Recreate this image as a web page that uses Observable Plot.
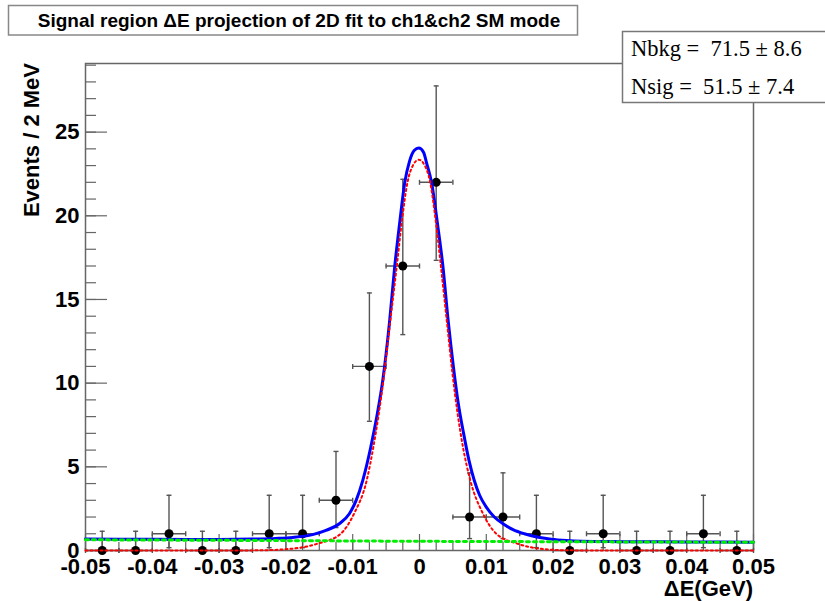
<!DOCTYPE html>
<html>
<head>
<meta charset="utf-8">
<script src="https://cdn.jsdelivr.net/npm/d3@7"></script>
<script src="https://cdn.jsdelivr.net/npm/@observablehq/plot@0.6"></script>
<style>
  body { margin: 0; background: white; }
  svg { display: block; }
</style>
</head>
<body>
<script>
// ---- data ----
const binCenters = [-0.0475, -0.0425, -0.0375, -0.0325, -0.0275, -0.0225, -0.0175, -0.0125, -0.0075, -0.0025,
                     0.0025,  0.0075,  0.0125,  0.0175,  0.0225,  0.0275,  0.0325,  0.0375,  0.0425,  0.0475];
const counts  = [0, 0, 1, 0, 0, 1, 1, 3, 11, 17, 22, 2, 2, 1, 0, 1, 0, 0, 1, 0];
const errLow  = [0, 0, 0.83, 0, 0, 0.83, 0.83, 1.63, 3.28, 4.10, 4.66, 1.29, 1.29, 0.83, 0, 0.83, 0, 0, 0.83, 0];
const errHigh = [1.15, 1.15, 2.30, 1.15, 1.15, 2.30, 2.30, 2.92, 4.39, 5.18, 5.76, 2.64, 2.64, 2.30, 1.15, 2.30, 1.15, 1.15, 2.30, 1.15];
const binWidth = 0.005;

// total fit (blue)
const totalX = [-0.05, -0.04, -0.03, -0.025, -0.0215, -0.019, -0.016, -0.014, -0.012, -0.0105, -0.0095, -0.0085, -0.0073, -0.0063, -0.0055,
                -0.0045, -0.0037, -0.0029, -0.0022, -0.0015, -0.0008, -0.0001, 0.0006, 0.0011, 0.0018, 0.0027, 0.0035, 0.0043, 0.0051,
                0.0058, 0.0066, 0.0074, 0.0082, 0.009, 0.01, 0.0112, 0.0125, 0.014, 0.0157, 0.018, 0.0197, 0.022, 0.0242, 0.03, 0.04, 0.05];
const totalY = [0.68, 0.67, 0.66, 0.68, 0.72, 0.78, 0.95, 1.2, 1.6, 2.2, 2.98, 4.18, 6.17, 8.2, 10.16,
                13.6, 17.0, 19.8, 22.0, 23.25, 23.9, 24.05, 23.8, 23.1, 22.0, 19.5, 17.0, 13.7, 10.9,
                8.8, 7.0, 5.4, 4.18, 3.3, 2.59, 2.0, 1.6, 1.25, 1.0, 0.78, 0.68, 0.6, 0.56, 0.53, 0.51, 0.5];

// signal component (red dotted)
const signalX = [-0.05, -0.03, -0.024, -0.0193, -0.0153, -0.0118, -0.0098, -0.0079, -0.0069, -0.0054, -0.0045, -0.0034, -0.0026, -0.0018,
                 -0.001, -0.0001, 0.0008, 0.0016, 0.0024, 0.0032, 0.0042, 0.0049, 0.0057, 0.0065, 0.0076, 0.0095, 0.0115, 0.0147, 0.0182,
                 0.0222, 0.03, 0.05];
const signalY = [0, 0, 0.01, 0.1, 0.4, 1.0, 2.2, 4.2, 6.2, 10.2, 13.3, 17.0, 19.8, 22.0,
                 23.0, 23.35, 23.0, 22.0, 19.8, 17.0, 13.3, 10.7, 8.2, 6.2, 4.2, 2.2, 1.0, 0.4, 0.1,
                 0.01, 0, 0];

// background component (green dotted)
const bkgX = [-0.05, -0.025, 0, 0.025, 0.05];
const bkgY = [0.64, 0.6, 0.55, 0.52, 0.49];

// axes
const xTickValues = [-0.05, -0.04, -0.03, -0.02, -0.01, 0, 0.01, 0.02, 0.03, 0.04, 0.05];
const xTickLabels = ["-0.05", "-0.04", "-0.03", "-0.02", "-0.01", "0", "0.01", "0.02", "0.03", "0.04", "0.05"];
const xMinorTicks = d3.range(0, 41).map(i => -0.05 + i * 0.0025);
const yTickValues = [0, 5, 10, 15, 20, 25];
const yTickLabels = ["0", "5", "10", "15", "20", "25"];
const yMinorTicks = d3.range(0, 30);
const xDomain = [-0.05, 0.05];
const yDomain = [0, 29.1];

const titleText = "Signal region \u0394E projection of 2D fit to ch1&ch2 SM mode";
const statsLines = ["Nbkg =  71.5 \u00B1 8.6", "Nsig =  51.5 \u00B1 7.4"];
const xTitle = "\u0394E(GeV)";
const yTitle = "Events / 2 MeV";

// ---- build ----
const points = binCenters.map((x, i) => ({
  x, y: counts[i], lo: counts[i] - errLow[i], hi: counts[i] + errHigh[i],
  left: x - binWidth / 2, right: x + binWidth / 2
}));
const total = totalX.map((x, i) => ({x, y: totalY[i]}));
const signal = signalX.map((x, i) => ({x, y: signalY[i]}));
const bkg = bkgX.map((x, i) => ({x, y: bkgY[i]}));

const hCap = {draw(ctx) { ctx.moveTo(-2.5, 0); ctx.lineTo(2.5, 0); }};
const vCap = {draw(ctx) { ctx.moveTo(0, -2.5); ctx.lineTo(0, 2.5); }};

const axisColor = "#666";
const errColor = "#555";
const sans = "'Liberation Sans', Arial, Helvetica, sans-serif";
const serif = "'Liberation Serif', 'Times New Roman', serif";

const chart = Plot.plot({
  width: 825,
  height: 601,
  marginLeft: 85,
  marginRight: 72,
  marginTop: 63,
  marginBottom: 51,
  style: {fontFamily: sans, background: "white", color: "black"},
  x: {domain: xDomain},
  y: {domain: yDomain},
  marks: [
    Plot.frame({stroke: axisColor, strokeWidth: 1.5}),
    // inward ticks
    Plot.axisY({ticks: yMinorTicks, tickSize: -11, fill: "none", stroke: axisColor, strokeWidth: 1.2, label: null}),
    Plot.axisY({ticks: yTickValues, tickSize: -22, fill: "none", stroke: axisColor, strokeWidth: 1.2, label: null}),
    Plot.axisX({ticks: xMinorTicks, tickSize: -8, fill: "none", stroke: axisColor, strokeWidth: 1.2, label: null}),
    Plot.axisX({ticks: xTickValues, tickSize: -16, fill: "none", stroke: axisColor, strokeWidth: 1.2, label: null}),
    // tick labels
    Plot.axisY({ticks: yTickValues, tickSize: 0, tickPadding: 6, label: null,
      tickFormat: d => yTickLabels[yTickValues.indexOf(d)],
      fontSize: 22, fontWeight: "bold", fill: "black"}),
    Plot.axisX({ticks: xTickValues, tickSize: 0, tickPadding: 8, label: null,
      tickFormat: d => xTickLabels[xTickValues.indexOf(d)],
      fontSize: 22, fontWeight: "bold", fill: "black"}),
    // error bars
    Plot.ruleX(points, {x: "x", y1: "lo", y2: "hi", stroke: errColor, strokeWidth: 1.4}),
    Plot.ruleY(points, {y: "y", x1: "left", x2: "right", stroke: errColor, strokeWidth: 1.4}),
    Plot.dot(points, {x: "x", y: "hi", symbol: hCap, stroke: errColor, strokeWidth: 1.4, fill: "none"}),
    Plot.dot(points, {x: "x", y: "lo", symbol: hCap, stroke: errColor, strokeWidth: 1.4, fill: "none"}),
    Plot.dot(points, {x: "left", y: "y", symbol: vCap, stroke: errColor, strokeWidth: 1.4, fill: "none"}),
    Plot.dot(points, {x: "right", y: "y", symbol: vCap, stroke: errColor, strokeWidth: 1.4, fill: "none"}),
    Plot.dot(points, {x: "x", y: "y", r: 4.5, fill: "black", stroke: "none"}),
    // fit curves
    Plot.line(total, {x: "x", y: "y", stroke: "#0000ff", strokeWidth: 3, curve: "monotone-x"}),
    Plot.line(signal, {x: "x", y: "y", stroke: "#ff0000", strokeWidth: 2, strokeDasharray: "2,3", curve: "monotone-x"}),
    Plot.line(bkg, {x: "x", y: "y", stroke: "#00ee00", strokeWidth: 3, strokeDasharray: "3,4", curve: "monotone-x"})
  ]
});
document.body.append(chart);

const svg = d3.select(chart);

// axis titles
svg.append("text")
  .attr("transform", "translate(39,63) rotate(-90)")
  .attr("text-anchor", "end")
  .attr("font-family", sans).attr("font-weight", "bold").attr("font-size", 22)
  .attr("fill", "black")
  .text(yTitle);
svg.append("text")
  .attr("x", 753).attr("y", 596)
  .attr("text-anchor", "end")
  .attr("font-family", sans).attr("font-weight", "bold").attr("font-size", 22)
  .attr("fill", "black")
  .text(xTitle);

// title box
svg.append("rect")
  .attr("x", 8.5).attr("y", 5.5).attr("width", 569).attr("height", 29.5)
  .attr("fill", "white").attr("stroke", "#888").attr("stroke-width", 1.5);
svg.append("text")
  .attr("x", 299).attr("y", 27)
  .attr("text-anchor", "middle")
  .attr("font-family", sans).attr("font-weight", "bold").attr("font-size", 19)
  .attr("fill", "black")
  .text(titleText);

// stats box
svg.append("rect")
  .attr("x", 622.5).attr("y", 31.5).attr("width", 210).attr("height", 71)
  .attr("fill", "white").attr("stroke", "#777").attr("stroke-width", 1.5);
statsLines.forEach((t, i) => {
  svg.append("text")
    .attr("x", 631).attr("y", 56 + i * 38)
    .attr("text-anchor", "start")
    .attr("font-family", serif).attr("font-size", 22.5)
    .style("white-space", "pre")
    .attr("fill", "black")
    .text(t);
});
</script>
</body>
</html>
